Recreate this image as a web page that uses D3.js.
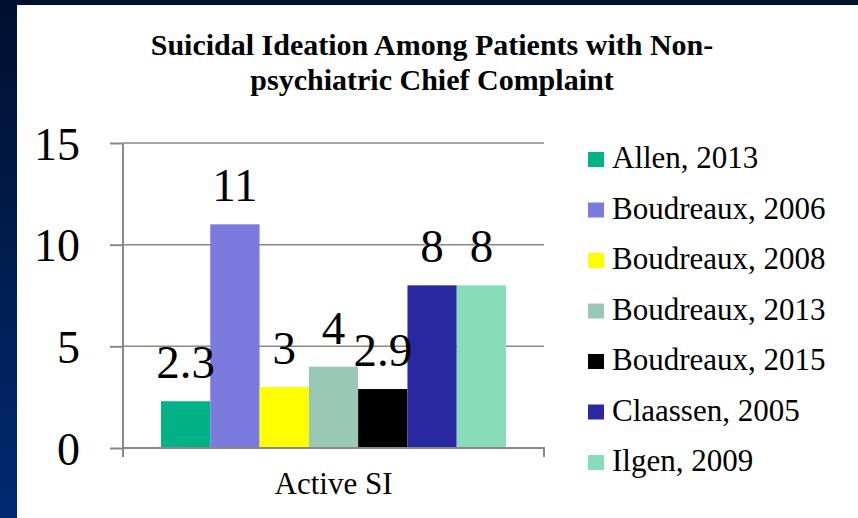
<!DOCTYPE html>
<html>
<head>
<meta charset="utf-8">
<script src="https://cdn.jsdelivr.net/npm/d3@7"></script>
</head>
<body style="margin:0">
<script>
let categories = ["Active SI"];
let studies = ["Allen, 2013", "Boudreaux, 2006", "Boudreaux, 2008", "Boudreaux, 2013", "Boudreaux, 2015", "Claassen, 2005", "Ilgen, 2009"];
let values = [2.3, 11, 3, 4, 2.9, 8, 8];
let colors = ["#00b386", "#7b7bde", "#ffff00", "#99c9b4", "#000000", "#2828a0", "#88dcba"];
let yTicks = [0, 5, 10, 15];

let W = 858, H = 518;
let font = "'Times New Roman', Tinos, 'Liberation Serif', 'Nimbus Roman', serif";

let margin = { top: 143, right: 314, bottom: 70, left: 123 };
let width = W - margin.left - margin.right,
    height = H - margin.top - margin.bottom;

let svg = d3.select("body").append("svg")
    .attr("width", W)
    .attr("height", H)
    .style("font-family", font);

// dark blue slide background
let grad = svg.append("defs").append("linearGradient")
    .attr("id", "bg")
    .attr("x1", 0).attr("y1", 0).attr("x2", 0).attr("y2", 1);
grad.append("stop").attr("offset", "0%").attr("stop-color", "#00102e");
grad.append("stop").attr("offset", "100%").attr("stop-color", "#002a72");
svg.append("rect").attr("width", W).attr("height", H).attr("fill", "url(#bg)");
svg.append("rect").attr("x", 17).attr("y", 5).attr("width", W - 17).attr("height", H - 5).attr("fill", "#fff");

// title
let title = svg.append("text")
    .style("font-family", font)
    .style("font-size", "30px")
    .style("font-weight", "bold")
    .style("text-anchor", "middle");
title.append("tspan").attr("x", 432).attr("y", 55).text("Suicidal Ideation Among Patients with Non-");
title.append("tspan").attr("x", 432).attr("y", 90).text("psychiatric Chief Complaint");

let g = svg.append("g")
    .attr("transform", "translate(" + margin.left + "," + margin.top + ")");

let x0 = d3.scaleBand()
    .domain(categories)
    .range([0, width])
    .paddingInner(0)
    .paddingOuter(0.11);

let x1 = d3.scaleBand()
    .domain(studies)
    .range([0, x0.bandwidth()]);

let y = d3.scaleLinear()
    .domain([0, 15])
    .range([height, 0]);

// gridlines
g.append("g")
    .selectAll("line")
    .data(yTicks.slice(1))
    .join("line")
    .attr("x1", 0)
    .attr("x2", width)
    .attr("y1", d => y(d))
    .attr("y2", d => y(d))
    .style("stroke", "#888")
    .style("stroke-width", 1.5);

// bars
let group = g.selectAll(".cat")
    .data(categories)
    .join("g")
    .attr("class", "cat")
    .attr("transform", d => "translate(" + x0(d) + ",0)");

group.selectAll("rect")
    .data(studies.map((s, i) => ({ study: s, value: values[i], color: colors[i] })))
    .join("rect")
    .attr("x", d => x1(d.study))
    .attr("width", x1.bandwidth())
    .attr("y", d => y(d.value))
    .attr("height", d => height - y(d.value))
    .style("fill", d => d.color);

group.selectAll("text.val")
    .data(studies.map((s, i) => ({ study: s, value: values[i] })))
    .join("text")
    .attr("class", "val")
    .attr("x", d => x1(d.study) + x1.bandwidth() / 2)
    .attr("y", d => y(d.value) - 23)
    .style("font-family", font)
    .style("font-size", "47px")
    .style("text-anchor", "middle")
    .text(d => d.value);

// y axis
let yAxis = d3.axisLeft(y).tickValues(yTicks).tickSize(13).tickPadding(30);
let ya = g.append("g").call(yAxis).attr("font-family", null);
ya.selectAll("path, line").style("stroke", "#888").style("stroke-width", 2);
ya.select(".domain").attr("d", "M0," + height + "V0");
ya.selectAll("text")
    .style("font-family", font)
    .style("font-size", "46px")
    .attr("fill", "#000")
    .attr("dy", "0.35em");

// x axis
let xAxis = d3.axisBottom(x0).tickSize(0).tickPadding(24);
let xa = g.append("g")
    .attr("transform", "translate(0," + height + ")")
    .call(xAxis)
    .attr("font-family", null);
xa.select(".domain").attr("d", "M0,9V0H" + width + "V9").style("stroke", "#888").style("stroke-width", 2).attr("fill", "none");
xa.selectAll("text")
    .style("font-family", font)
    .style("font-size", "31px")
    .attr("fill", "#000");

// legend
let legend = svg.append("g").attr("transform", "translate(588,168)");
let item = legend.selectAll("g")
    .data(studies)
    .join("g")
    .attr("transform", (d, i) => "translate(0," + i * 50.5 + ")");
item.append("rect")
    .attr("x", 0)
    .attr("y", -16)
    .attr("width", 16)
    .attr("height", 15)
    .style("fill", (d, i) => colors[i]);
item.append("text")
    .attr("x", 24)
    .attr("y", 0)
    .style("font-family", font)
    .style("font-size", "31px")
    .text(d => d);
</script>
</body>
</html>
